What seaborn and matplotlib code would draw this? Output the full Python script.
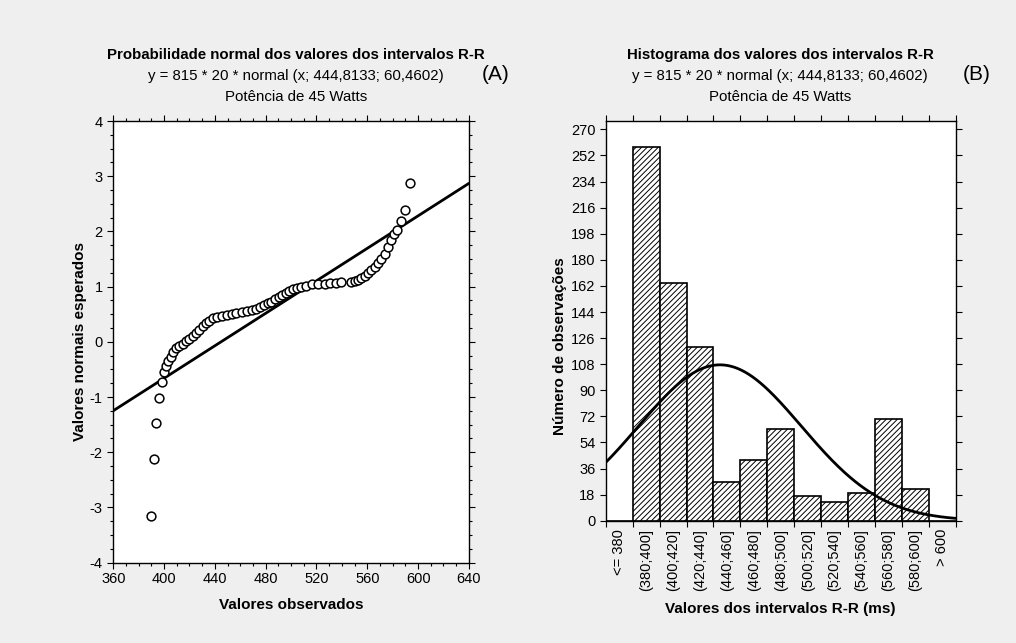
import numpy as np
import pandas as pd
import matplotlib
matplotlib.use('Agg')
import matplotlib.pyplot as plt
from matplotlib.ticker import MultipleLocator
import seaborn as sns

# Histogram classes (ms) and counts
categories = ['<= 380', '(380;400]', '(400;420]', '(420;440]', '(440;460]', '(460;480]',
              '(480;500]', '(500;520]', '(520;540]', '(540;560]', '(560;580]',
              '(580;600]', '> 600']
counts = [0, 258, 164, 120, 27, 42, 63, 17, 13, 19, 70, 22, 0]
bin_mids = [370, 390, 410, 430, 450, 470, 490, 510, 530, 550, 570, 590, 610]

# fitted normal
n_obs = 815
bin_width = 20
fit_mean = 444.8133
fit_sd = 60.4602
line_sd = 68.0  # slope of reference line in probability plot

# normal probability plot points (observed value, expected normal value)
obs_values = [389.4, 391.7, 393.6, 395.7, 398.2, 399.9, 401.5, 403.3, 405.1, 407.2,
              409.3, 411.9, 414.6, 417.2, 419.8, 422.5, 425.1, 427.7, 430.3, 433.0,
              435.5, 438.2, 441.3, 445.3, 449.2, 453.1, 457.0, 461.0, 464.9, 468.9,
              472.5, 475.5, 478.5, 481.5, 484.5, 487.5, 490.5, 493.0, 495.8, 498.4,
              501.6, 504.7, 508.1, 512.1, 516.5, 521.2, 526.5, 530.9, 535.1, 539.1,
              547.5, 550.1, 552.7, 555.3, 558.0, 560.6, 563.2, 565.8, 568.4, 571.1,
              573.7, 576.3, 578.4, 581.0, 583.4, 586.8, 589.4, 593.3]
expected_z = [-3.16, -2.13, -1.47, -1.01, -0.72, -0.54, -0.44, -0.35, -0.27, -0.18,
              -0.12, -0.07, -0.03, 0.02, 0.06, 0.11, 0.16, 0.22, 0.28, 0.34,
              0.38, 0.43, 0.45, 0.47, 0.49, 0.50, 0.52, 0.54, 0.56, 0.58,
              0.60, 0.63, 0.66, 0.70, 0.73, 0.77, 0.81, 0.85, 0.89, 0.92,
              0.95, 0.98, 1.00, 1.02, 1.04, 1.04, 1.05, 1.07, 1.07, 1.09,
              1.09, 1.10, 1.12, 1.15, 1.20, 1.25, 1.30, 1.36, 1.42, 1.50,
              1.59, 1.71, 1.85, 1.95, 2.03, 2.18, 2.38, 2.87]

sns.set_theme(style='white')
plt.rcParams['font.family'] = ['Liberation Sans', 'DejaVu Sans']
plt.rcParams['axes.unicode_minus'] = False
plt.rcParams['text.color'] = 'black'
plt.rcParams['axes.labelcolor'] = 'black'
plt.rcParams['hatch.linewidth'] = 0.7
plt.rcParams['hatch.color'] = 'black'

bg = '#efefef'
fig = plt.figure(figsize=(10.16, 6.43), dpi=100, facecolor=bg)

# ---------- (A) probability plot ----------
axA = fig.add_axes([0.1115, 0.1249, 0.350, 0.6869])
dfA = pd.DataFrame({'obs': obs_values, 'z': expected_z})
sns.scatterplot(data=dfA, x='obs', y='z', ax=axA, marker='o', s=40,
                facecolor='white', edgecolor='black', linewidth=1.1, zorder=3)
line_x = np.array([360, 640])
dfLine = pd.DataFrame({'x': line_x, 'y': (line_x - fit_mean) / line_sd})
sns.lineplot(data=dfLine, x='x', y='y', ax=axA, color='black', linewidth=2.0, zorder=2)
axA.set_xlim(360, 640)
axA.set_ylim(-4, 4)
axA.xaxis.set_major_locator(MultipleLocator(40))
axA.xaxis.set_minor_locator(MultipleLocator(10))
axA.yaxis.set_major_locator(MultipleLocator(1))
axA.yaxis.set_minor_locator(MultipleLocator(0.25))
axA.set_xlabel('Valores observados', fontsize=11, fontweight='bold', labelpad=8)
axA.set_ylabel('Valores normais esperados', fontsize=11, fontweight='bold')
axA.yaxis.set_label_coords(-0.075, 0.5)

# ---------- (B) histogram ----------
axB = fig.add_axes([0.5962, 0.1902, 0.3445, 0.6221])
dfB = pd.DataFrame({'cls': categories, 'n': counts})
sns.barplot(data=dfB, x='cls', y='n', ax=axB, color='white', edgecolor='black',
            linewidth=1.2, width=1.0, hatch='//////', saturation=1)
xs = np.linspace(360, 620, 400)
pdf = n_obs * bin_width * np.exp(-0.5 * ((xs - fit_mean) / fit_sd) ** 2) / (fit_sd * np.sqrt(2 * np.pi))
dfCurve = pd.DataFrame({'pos': (xs - bin_mids[0]) / bin_width, 'y': pdf})
sns.lineplot(data=dfCurve, x='pos', y='y', ax=axB, color='black', linewidth=2.0)
axB.set_xlim(-0.5, 12.5)
axB.set_ylim(0, 276)
axB.yaxis.set_major_locator(MultipleLocator(18))
axB.set_xticks(range(len(categories)))
axB.set_xticklabels(categories, rotation=90)
axB.set_xticks(np.arange(-0.5, 13, 1), minor=True)
axB.set_xlabel('Valores dos intervalos R-R (ms)', fontsize=11, fontweight='bold', labelpad=8)
axB.set_ylabel('Número de observações', fontsize=11, fontweight='bold')
axB.yaxis.set_label_coords(-0.11, 0.437)

for ax in (axA, axB):
    ax.set_facecolor('white')
    for sp in ax.spines.values():
        sp.set_visible(True)
        sp.set_color('black')
        sp.set_linewidth(1.0)
    ax.tick_params(which='both', labelsize=10.5, colors='black', direction='out',
                   top=True, right=True, bottom=True, left=True)
    ax.tick_params(which='major', length=4, width=0.8)
    ax.tick_params(which='minor', length=2.5, width=0.8)
    ax.tick_params(axis='x', which='major', pad=3)

# histogram: ticks on class boundaries, labels at class centres
axB.tick_params(axis='x', which='major', length=0, pad=6)
axB.tick_params(axis='x', which='minor', length=4)

# titles
for cx, title in ((0.291, 'Probabilidade normal dos valores dos intervalos R-R'),
                  (0.768, 'Histograma dos valores dos intervalos R-R')):
    fig.text(cx, 1 - 55 / 643, title, ha='center', va='center', fontsize=10.8, fontweight='bold')
    fig.text(cx, 1 - 76 / 643, 'y = 815 * 20 * normal (x; 444,8133; 60,4602)',
             ha='center', va='center', fontsize=10.8)
    fig.text(cx, 1 - 97 / 643, 'Potência de 45 Watts', ha='center', va='center', fontsize=10.8)
fig.text(496 / 1016, 1 - 74 / 643, '(A)', ha='center', va='center', fontsize=15)
fig.text(977 / 1016, 1 - 74 / 643, '(B)', ha='center', va='center', fontsize=15)

fig.savefig('out.png', dpi=100, facecolor=bg)
